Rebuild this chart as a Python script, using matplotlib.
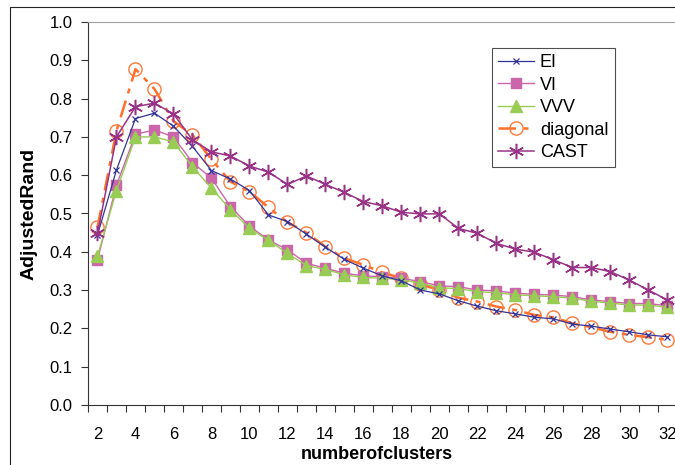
import numpy as np
import matplotlib
matplotlib.use("Agg")
import matplotlib.pyplot as plt
from matplotlib.patches import Rectangle

plt.rcParams['font.family'] = ['Liberation Sans', 'DejaVu Sans']

clusters = list(range(2, 33))

ei = [0.444, 0.614, 0.748, 0.762, 0.728, 0.675, 0.612, 0.590, 0.560, 0.496,
      0.479, 0.446, 0.412, 0.380, 0.357, 0.337, 0.324, 0.300, 0.290, 0.272,
      0.258, 0.246, 0.238, 0.229, 0.225, 0.211, 0.206, 0.198, 0.191, 0.183, 0.178]
vi = [0.379, 0.574, 0.707, 0.718, 0.700, 0.633, 0.592, 0.518, 0.467, 0.431,
      0.405, 0.370, 0.357, 0.344, 0.337, 0.335, 0.331, 0.322, 0.311, 0.309,
      0.300, 0.298, 0.292, 0.289, 0.287, 0.283, 0.274, 0.270, 0.265, 0.265, 0.259]
vvv = [0.389, 0.560, 0.700, 0.700, 0.687, 0.622, 0.566, 0.510, 0.461, 0.430,
       0.396, 0.364, 0.354, 0.340, 0.333, 0.331, 0.327, 0.318, 0.306, 0.304,
       0.296, 0.293, 0.288, 0.285, 0.283, 0.279, 0.271, 0.266, 0.261, 0.261, 0.255]
diagonal = [0.464, 0.716, 0.877, 0.825, 0.741, 0.705, 0.641, 0.583, 0.557, 0.516,
            0.477, 0.450, 0.413, 0.383, 0.366, 0.346, 0.331, 0.315, 0.300, 0.280,
            0.270, 0.257, 0.248, 0.235, 0.229, 0.213, 0.203, 0.191, 0.183, 0.177, 0.170]
cast = [0.448, 0.700, 0.779, 0.788, 0.760, 0.692, 0.661, 0.650, 0.624, 0.608,
        0.576, 0.598, 0.576, 0.555, 0.531, 0.520, 0.503, 0.499, 0.499, 0.461,
        0.448, 0.422, 0.407, 0.399, 0.379, 0.359, 0.359, 0.348, 0.326, 0.300, 0.274]

W, H = 675, 465
fig = plt.figure(figsize=(W / 100, H / 100), dpi=100)
ax = fig.add_axes([88 / W, 1 - 405 / H, 589 / W, 383 / H])

ax.plot(clusters, ei, color='#333399', lw=0.9, marker='x', ms=5, mew=0.9, label='EI', zorder=5)
ax.plot(clusters, vi, color='#cc66aa', lw=1.0, marker='s', ms=7, mec='#cc66aa', label='VI', zorder=3)
ax.plot(clusters, vvv, color='#99cc55', lw=1.0, marker='^', ms=8, mec='#99cc55', label='VVV', zorder=4)
ax.plot(clusters, diagonal, color='#ff6f2a', lw=1.8, ls=(0, (7, 3, 2, 3)), marker='o', ms=9.5,
        mfc='none', mec='#ff7a3a', mew=1.0, label='diagonal', zorder=2)
ax.plot(clusters, cast, color='#993388', lw=1.1, marker=(6, 2, 0), ms=11, mew=1.1, label='CAST', zorder=6)

ax.set_xlim(1.5, 32.5)
ax.set_ylim(0, 1)

# excel-style category axis: marks between categories, labels on every other one
ax.set_xticks(np.arange(1.5, 33, 1), minor=True)
ax.set_xticks(range(2, 33, 2))
ax.tick_params(axis='x', which='minor', direction='out', length=5, width=0.8, color='#333333')
ax.tick_params(axis='x', which='major', length=0, pad=16, labelsize=12)
ax.set_yticks(np.arange(0, 1.01, 0.1))
ax.set_yticklabels(['%.1f' % v for v in np.arange(0, 1.01, 0.1)])
ax.tick_params(axis='y', direction='out', length=5, width=0.8, color='#333333', pad=6, labelsize=12)

ax.spines['left'].set_color('#333333')
ax.spines['bottom'].set_color('#333333')
ax.spines['top'].set_color('#a0a0a0')
ax.spines['right'].set_visible(False)

ax.set_xlabel('numberofclusters', fontsize=13, fontweight='bold')
ax.xaxis.set_label_coords(0.49, -0.108)
ax.set_ylabel('AdjustedRand', fontsize=14, fontweight='bold', labelpad=9)

leg = ax.legend(loc='upper left', bbox_to_anchor=(492 / W, 1 - 48 / H), bbox_transform=fig.transFigure,
                borderaxespad=0, fontsize=13, frameon=True, fancybox=False, handlelength=2.0,
                handletextpad=0.3, labelspacing=0.3, borderpad=0.35)
leg.get_frame().set_edgecolor('#222222')
leg.get_frame().set_linewidth(0.8)

# chart area border, cut off at right and bottom like the reference
fig.patches.append(Rectangle((10 / W, -0.2), 1.5, 0.2 + (1 - 7 / H), transform=fig.transFigure,
                             fill=False, edgecolor='#222222', lw=0.8))

fig.savefig('out.png', dpi=100)
